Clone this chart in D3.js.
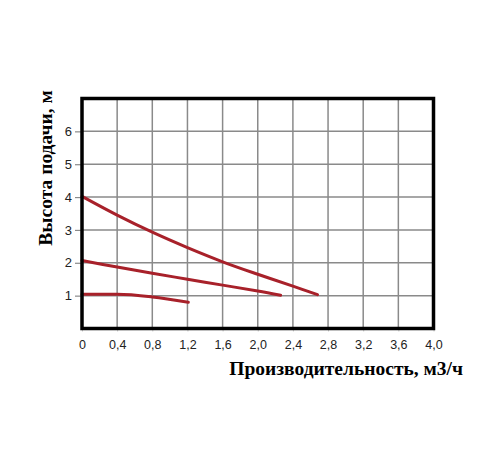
<!DOCTYPE html>
<html>
<head>
<meta charset="utf-8">
<script src="https://cdn.jsdelivr.net/npm/d3@7"></script>
<style>
  body { margin: 0; background: #fff; }
  svg { display: block; }
</style>
</head>
<body>
<div id="chart"></div>
<script>
// flow, m3/h
const xTicks = [0, 0.4, 0.8, 1.2, 1.6, 2.0, 2.4, 2.8, 3.2, 3.6, 4.0];
const yTicks = [1, 2, 3, 4, 5, 6];

// pump curves (flow, head)
const curveHigh = [[0, 4.02], [0.4, 3.45], [0.8, 2.93], [1.2, 2.46], [1.6, 2.03], [2.0, 1.65], [2.4, 1.29], [2.68, 1.03]];
const curveMid = [[0, 2.07], [0.4, 1.87], [0.8, 1.68], [1.2, 1.5], [1.6, 1.32], [2.0, 1.14], [2.26, 1.01]];
const curveLow = [[0, 1.04], [0.4, 1.04], [0.8, 0.96], [1.21, 0.8]];

const curves = [curveHigh, curveMid, curveLow];

const W = 500, H = 450;
const margin = { top: 98.5, right: 66.5, bottom: 121.5, left: 82 },
    width = W - margin.left - margin.right,
    height = H - margin.top - margin.bottom;

const svg = d3.select("#chart")
    .append("svg")
    .attr("width", W)
    .attr("height", H);

const g = svg.append("g")
    .attr("transform", `translate(${margin.left}, ${margin.top})`);

const x = d3.scaleLinear()
    .domain([0, 4])
    .range([0, width]);

const y = d3.scaleLinear()
    .domain([0, 7])
    .range([height, 0]);

const fmt = d => d === 0 ? "0" : d3.format(".1f")(d).replace(".", ",");

// grid
g.append("g")
    .selectAll("line")
    .data(xTicks.filter(d => d > 0 && d < 4))
    .join("line")
    .attr("x1", d => x(d)).attr("x2", d => x(d))
    .attr("y1", 0).attr("y2", height)
    .attr("stroke", "#8a8a8a")
    .attr("stroke-width", 1.5);

g.append("g")
    .selectAll("line")
    .data(yTicks)
    .join("line")
    .attr("x1", 0).attr("x2", width)
    .attr("y1", d => y(d)).attr("y2", d => y(d))
    .attr("stroke", "#8a8a8a")
    .attr("stroke-width", 1.5);

// axes
const axisB = d3.axisBottom(x)
    .tickValues(xTicks)
    .tickFormat(fmt)
    .tickSize(3)
    .tickPadding(9);

g.append("g")
    .attr("transform", `translate(0, ${height})`)
    .call(axisB)
    .call(a => a.select(".domain").remove())
    .call(a => a.selectAll("line").attr("stroke", "#ccc"))
    .selectAll("text")
    .style("font-family", "Liberation Sans, Arial, sans-serif")
    .style("font-size", "12.5px")
    .attr("fill", "#222");

const axisL = d3.axisLeft(y)
    .tickValues(yTicks)
    .tickFormat(d3.format("d"))
    .tickSize(7)
    .tickPadding(3);

g.append("g")
    .call(axisL)
    .call(a => a.select(".domain").remove())
    .call(a => a.selectAll("line").attr("stroke", "#8a8a8a").attr("stroke-width", 1.2))
    .selectAll("text")
    .style("font-family", "Liberation Sans, Arial, sans-serif")
    .style("font-size", "13px")
    .attr("fill", "#222");

// curves
const line = d3.line()
    .curve(d3.curveMonotoneX)
    .x(d => x(d[0]))
    .y(d => y(d[1]));

const smooth = d3.line()
    .curve(d3.curveCatmullRom.alpha(0.5))
    .x(d => x(d[0]))
    .y(d => y(d[1]));

g.selectAll(".curve")
    .data(curves)
    .join("path")
    .attr("class", "curve")
    .attr("fill", "none")
    .attr("stroke", "#a8212a")
    .attr("stroke-width", 3)
    .attr("stroke-linecap", "round")
    .attr("d", (d, i) => i === 2 ? line(d) : smooth(d));

// frame
g.append("rect")
    .attr("x", 0).attr("y", 0)
    .attr("width", width).attr("height", height)
    .attr("fill", "none")
    .attr("stroke", "#000")
    .attr("stroke-width", 3.5);

// titles
svg.append("text")
    .attr("x", 463)
    .attr("y", 375)
    .attr("text-anchor", "end")
    .style("font-family", "Liberation Serif, Times New Roman, serif")
    .style("font-weight", "bold")
    .style("font-size", "19.5px")
    .text("Производительность, м3/ч");

svg.append("text")
    .attr("transform", "translate(52, 168) rotate(-90)")
    .attr("text-anchor", "middle")
    .style("font-family", "Liberation Serif, Times New Roman, serif")
    .style("font-weight", "bold")
    .style("font-size", "19.5px")
    .text("Высота подачи, м");
</script>
</body>
</html>
